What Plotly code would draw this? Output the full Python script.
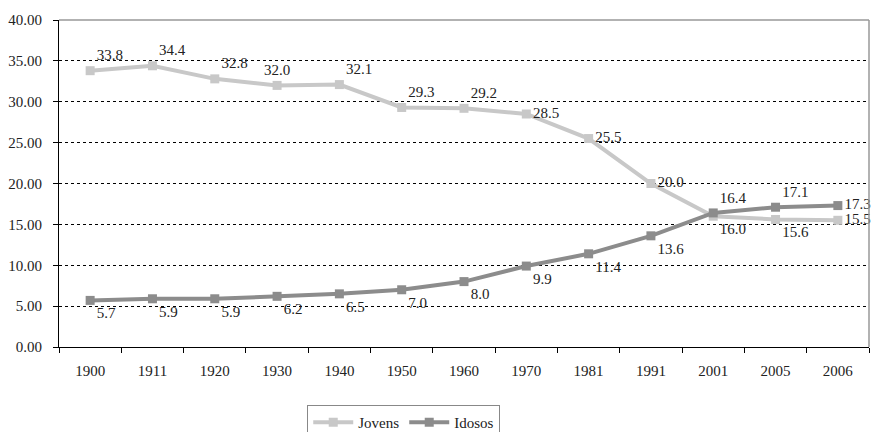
import plotly.graph_objects as go

years = ["1900", "1911", "1920", "1930", "1940", "1950", "1960", "1970", "1981", "1991", "2001", "2005", "2006"]
jovens = [33.8, 34.4, 32.8, 32.0, 32.1, 29.3, 29.2, 28.5, 25.5, 20.0, 16.0, 15.6, 15.5]
idosos = [5.7, 5.9, 5.9, 6.2, 6.5, 7.0, 8.0, 9.9, 11.4, 13.6, 16.4, 17.1, 17.3]

jov_pos = ["top right", "top right", "top right", "top center", "top right", "top right", "top right",
           "middle right", "middle right", "middle right", "bottom right", "bottom right", "middle right"]
ido_pos = ["bottom right"] * 10 + ["top right", "top right", "middle right"]

font = dict(family="Liberation Serif", size=15, color="#222222")

fig = go.Figure()
fig.add_trace(go.Scatter(
    x=years, y=jovens, name="Jovens", mode="lines+markers+text",
    line=dict(color="#c8c8c8", width=4),
    marker=dict(symbol="square", size=9, color="#c8c8c8"),
    text=[f"{v:.1f}" for v in jovens], textposition=jov_pos, textfont=font,
    cliponaxis=False,
))
fig.add_trace(go.Scatter(
    x=years, y=idosos, name="Idosos", mode="lines+markers+text",
    line=dict(color="#8c8c8c", width=4),
    marker=dict(symbol="square", size=9, color="#8c8c8c"),
    text=[f"{v:.1f}" for v in idosos], textposition=ido_pos, textfont=font,
    cliponaxis=False,
))

fig.update_layout(
    width=872, height=432,
    margin=dict(l=59, r=3, t=20, b=85),
    paper_bgcolor="white", plot_bgcolor="white",
    font=font,
    showlegend=True,
    legend=dict(orientation="h", x=0.463, xanchor="center", xref="container",
                y=0.0625, yanchor="top", yref="container",
                bordercolor="#888888", borderwidth=1, font=font,
                itemwidth=40, traceorder="normal"),
    xaxis=dict(type="category", showgrid=False, showline=True, linecolor="black", linewidth=1,
               ticks="outside", ticklen=5, tickcolor="black", tickson="boundaries",
               range=[-0.5, 12.5], tickfont=font, automargin=False, ticklabelstandoff=10),
    yaxis=dict(range=[0, 40], dtick=5, tickformat=".2f", showgrid=True, gridcolor="black",
               griddash="dot", gridwidth=1, showline=True, linecolor="black", linewidth=1,
               ticks="outside", ticklen=5, tickcolor="black", zeroline=False, tickfont=font,
               automargin=False, ticklabelstandoff=8),
    shapes=[
        dict(type="line", xref="paper", yref="paper", x0=0, x1=1, y0=1, y1=1,
             line=dict(color="#999999", width=1.5)),
        dict(type="line", xref="paper", yref="paper", x0=1, x1=1, y0=0, y1=1,
             line=dict(color="#999999", width=1.5)),
    ],
)

fig.write_html("out.html", config={"displayModeBar": False},
               post_script="document.body.style.margin='0';document.body.style.overflow='hidden';")
